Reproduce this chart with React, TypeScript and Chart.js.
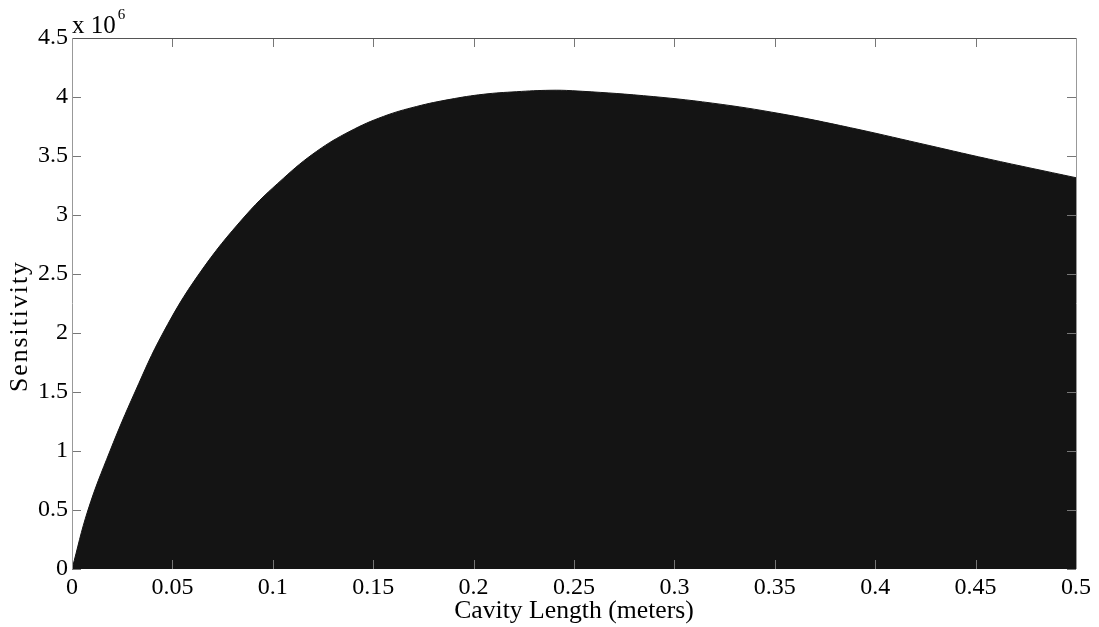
import { useEffect, useRef } from "react";
import { Chart, registerables } from "chart.js";

Chart.register(...registerables);

// Cavity length in meters
const cavityLength = [
  0, 0.00797, 0.01892, 0.03137, 0.04532, 0.06325, 0.08665, 0.10523, 0.12186,
  0.13845, 0.15503, 0.17166, 0.18825, 0.20483, 0.22146, 0.23805, 0.2494,
  0.2846, 0.3189, 0.3533, 0.3876, 0.422, 0.4563, 0.5,
];
// Sensitivity values
const sensitivity = [
  0, 0.5e6, 1.0e6, 1.5e6, 2.0e6, 2.5e6, 3.0e6, 3.31e6, 3.54e6, 3.71e6,
  3.835e6, 3.92e6, 3.98e6, 4.023e6, 4.045e6, 4.057e6, 4.053e6, 4.011e6,
  3.948e6, 3.857e6, 3.74e6, 3.608e6, 3.475e6, 3.316e6,
];
const xTicks = [0, 0.05, 0.1, 0.15, 0.2, 0.25, 0.3, 0.35, 0.4, 0.45, 0.5];
const yTicks = [0, 0.5e6, 1e6, 1.5e6, 2e6, 2.5e6, 3e6, 3.5e6, 4e6, 4.5e6];
const xTitle = "Cavity Length (meters)";
const yTitle = "Sensitivity";

const FONT = "'Liberation Serif', 'DejaVu Serif', serif";

const boxPlugin = {
  id: "matlabBox",
  afterDatasetsDraw(chart: any) {
    const { ctx, chartArea } = chart;
    const { left, right, top, bottom } = chartArea;
    const xs = chart.scales.x;
    const ys = chart.scales.y;
    const tl = 9;
    ctx.save();
    ctx.lineWidth = 1;
    ctx.strokeStyle = "#777";
    ctx.beginPath();
    xTicks.forEach((v) => {
      const px = Math.round(xs.getPixelForValue(v)) + 0.5;
      ctx.moveTo(px, top);
      ctx.lineTo(px, top + tl);
      ctx.moveTo(px, bottom);
      ctx.lineTo(px, bottom - tl);
    });
    yTicks.forEach((v) => {
      const py = Math.round(ys.getPixelForValue(v)) + 0.5;
      ctx.moveTo(left, py);
      ctx.lineTo(left + tl, py);
      ctx.moveTo(right, py);
      ctx.lineTo(right - tl, py);
    });
    ctx.stroke();
    ctx.strokeStyle = "#555";
    ctx.beginPath();
    ctx.moveTo(left, Math.round(top) + 0.5);
    ctx.lineTo(right, Math.round(top) + 0.5);
    ctx.stroke();
    ctx.strokeStyle = "#999";
    ctx.beginPath();
    ctx.moveTo(Math.round(left) + 0.5, top);
    ctx.lineTo(Math.round(left) + 0.5, bottom);
    ctx.moveTo(Math.round(right) + 0.5, top);
    ctx.lineTo(Math.round(right) + 0.5, bottom);
    ctx.stroke();

    // exponent label
    ctx.fillStyle = "#000";
    ctx.textBaseline = "alphabetic";
    ctx.textAlign = "left";
    ctx.font = `25px ${FONT}`;
    ctx.fillText("x 10", left, 33);
    const w = ctx.measureText("x 10").width;
    ctx.font = `15px ${FONT}`;
    ctx.fillText("6", left + w + 2, 19);

    // axis titles
    ctx.font = `25.7px ${FONT}`;
    ctx.textAlign = "center";
    ctx.fillText(xTitle, (left + right) / 2, 618);
    ctx.save();
    ctx.translate(27, 326);
    ctx.rotate(-Math.PI / 2);
    try {
      (ctx as any).letterSpacing = "2px";
    } catch (e) {}
    ctx.fillText(yTitle, 0, 0);
    ctx.restore();
    ctx.restore();
  },
};

export default function App() {
  const ref = useRef<HTMLCanvasElement | null>(null);
  useEffect(() => {
    if (!ref.current) return;
    const chart = new Chart(ref.current, {
      type: "line",
      data: {
        datasets: [
          {
            data: cavityLength.map((x, i) => ({ x, y: sensitivity[i] })),
            fill: "origin",
            backgroundColor: "#141414",
            borderColor: "#141414",
            borderWidth: 1,
            pointRadius: 0,
            tension: 0.4,
          },
        ],
      },
      plugins: [boxPlugin],
      options: {
        animation: false,
        responsive: false,
        devicePixelRatio: 1,
        layout: { padding: { left: 0, top: 38, right: 23, bottom: 0 } },
        plugins: { legend: { display: false }, tooltip: { enabled: false } },
        scales: {
          x: {
            type: "linear",
            min: 0,
            max: 0.5,
            grid: { display: false, drawTicks: false },
            border: { display: false },
            afterBuildTicks: (s: any) => {
              s.ticks = xTicks.map((v) => ({ value: v }));
            },
            afterFit: (s: any) => {
              s.height = 58;
            },
            ticks: {
              color: "#000",
              font: { family: FONT, size: 24 },
              padding: 4,
              maxRotation: 0,
              autoSkip: false,
              callback: (v: any) => String(Number(v)),
            },
          },
          y: {
            type: "linear",
            min: 0,
            max: 4.5e6,
            grid: { display: false, drawTicks: false },
            border: { display: false },
            afterBuildTicks: (s: any) => {
              s.ticks = yTicks.map((v) => ({ value: v }));
            },
            afterFit: (s: any) => {
              s.width = 72;
            },
            ticks: {
              color: "#000",
              font: { family: FONT, size: 24 },
              padding: 4,
              autoSkip: false,
              callback: (v: any) => String(Number(v) / 1e6),
            },
          },
        },
      },
    });
    return () => chart.destroy();
  }, []);
  return (
    <div style={{ position: "absolute", left: 0, top: 0, width: 1099, height: 627, background: "#fff" }}>
      <canvas ref={ref} width={1099} height={627} style={{ width: 1099, height: 627 }} />
    </div>
  );
}
